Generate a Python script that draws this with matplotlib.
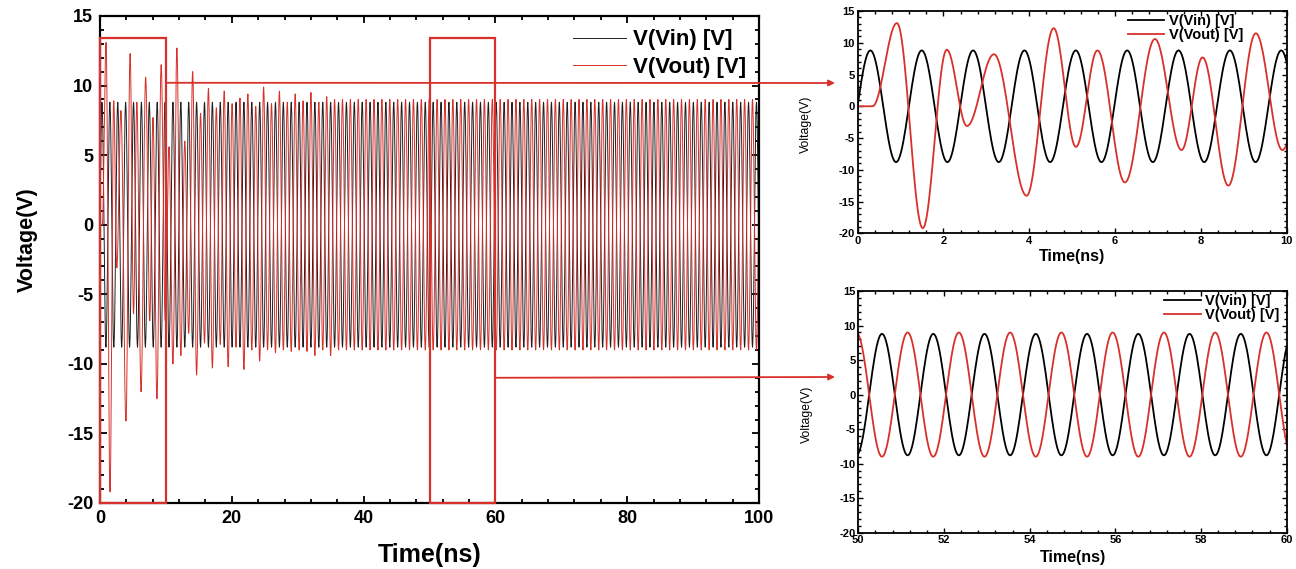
import numpy as np
import matplotlib
matplotlib.use("Agg")
import matplotlib.pyplot as plt
from matplotlib.patches import Rectangle, ConnectionPatch
from matplotlib.ticker import MultipleLocator

plt.rcParams['font.family'] = ['Liberation Sans', 'DejaVu Sans']
plt.rcParams['axes.unicode_minus'] = False

# Vin: clean sine (ns, V)
vin_amp = 8.8
vin_first_trough = -0.298
vin_half_period = 0.59825

# Vout extrema during start-up
vout_t_start = [0, 0.35, 0.92, 1.52, 2.08, 2.55, 3.18, 3.94, 4.57, 5.09,
                5.59, 6.23, 6.93, 7.55, 8.04, 8.64, 9.28, 9.90]
vout_v_start = [0, 0, 13.1, -19.2, 8.9, -3.1, 8.2, -14.1, 12.3, -6.4,
                8.8, -12.0, 10.6, -6.9, 7.7, -12.5, 11.5, -6.9]
# Vout extrema 10.5-35 ns, locked to Vin
vout_v_mid = [5.6, -10.0, 12.7, -9.4, 6.0, -7.8, 11.0, -10.8, 8.0, -8.5,
              9.8, -10.3, 8.4, -8.6, 9.6, -10.2, 8.7, -8.8, 9.1, -10.4,
              9.4, -9.0, 8.5, -9.8, 9.9, -9.0, 8.7, -9.2, 9.6, -9.0,
              8.8, -9.1, 9.4, -9.0, 8.9, -9.1, 9.5, -9.4, 8.8, -9.0,
              9.2, -9.4]
vout_steady = 9.0

t_end = 100.8


def wave(te, ve, n=24):
    # smooth half-cosine between consecutive extrema
    ts, vs = [], []
    for i in range(len(te) - 1):
        s = np.linspace(0, 1, n, endpoint=False)
        ts.append(te[i] + s * (te[i + 1] - te[i]))
        vs.append((ve[i] + ve[i + 1]) / 2 + (ve[i] - ve[i + 1]) / 2 * np.cos(np.pi * s))
    ts.append([te[-1]])
    vs.append([ve[-1]])
    return np.concatenate(ts), np.concatenate(vs)


# Vin extrema grid
k = np.arange(int((t_end - vin_first_trough) / vin_half_period) + 1)
vin_te = vin_first_trough + k * vin_half_period
vin_ve = np.where(k % 2 == 0, -vin_amp, vin_amp)
t_in, v_in = wave(vin_te, vin_ve)

# Vout extrema
grid = vin_te[vin_te > 10.2]
sign = -np.sign(vin_ve[vin_te > 10.2])
vout_te = list(vout_t_start)
vout_ve = list(vout_v_start)
for i, tt in enumerate(grid):
    vout_te.append(tt)
    vout_ve.append(vout_v_mid[i] if i < len(vout_v_mid) else sign[i] * vout_steady)
t_out, v_out = wave(np.array(vout_te), np.array(vout_ve))

red = '#d8302a'
W, H = 1296, 569
fig = plt.figure(figsize=(W / 100, H / 100), dpi=100)

ax = fig.add_axes([100 / W, 1 - 503 / H, 659 / W, 487 / H])
ax1 = fig.add_axes([857.5 / W, 1 - 233.3 / H, 429.2 / W, 222.3 / H])
ax2 = fig.add_axes([858.3 / W, 1 - 532.7 / H, 428.4 / W, 241.7 / H])

# main panel
ax.plot(t_in, v_in, color='#202020', lw=0.7, label='V(Vin) [V]')
ax.plot(t_out, v_out, color=red, lw=0.7, label='V(Vout) [V]')
ax.set_xlim(0, 100)
ax.set_ylim(-20, 15)
ax.xaxis.set_major_locator(MultipleLocator(20))
ax.xaxis.set_minor_locator(MultipleLocator(4))
ax.yaxis.set_major_locator(MultipleLocator(5))
ax.yaxis.set_minor_locator(MultipleLocator(1))
ax.tick_params(which='both', direction='in', top=True, right=True, width=1.3)
ax.tick_params(which='major', length=5, labelsize=13, pad=5)
ax.tick_params(which='minor', length=3)
for lab in ax.get_xticklabels() + ax.get_yticklabels():
    lab.set_fontweight('bold')
for sp in ax.spines.values():
    sp.set_linewidth(1.6)
ax.set_xlabel('Time(ns)', fontsize=18, fontweight='bold')
ax.set_ylabel('Voltage(V)', fontsize=15.5, fontweight='bold')
ax.xaxis.set_label_coords(0.5, -0.083)
ax.yaxis.set_label_coords(-0.094, 0.54)
ax.legend(loc='upper right', frameon=False, prop={'size': 16, 'weight': 'bold'},
          handlelength=2.4, handletextpad=0.3, labelspacing=0.3,
          borderaxespad=0.2, bbox_to_anchor=(1.0, 1.0))

# zoom boxes
for x0 in (0, 50):
    ax.add_patch(Rectangle((x0, -20), 10, 33.4, fill=False, ec=red, lw=1.6,
                           clip_on=False, zorder=5))

# insets
for a, (x0, x1), legx in ((ax1, (0, 10), 0.905), (ax2, (50, 60), 0.99)):
    a.plot(t_in, v_in, color='black', lw=1.3, label='V(Vin) [V]')
    a.plot(t_out, v_out, color=red, lw=1.3, label='V(Vout) [V]')
    a.set_xlim(x0, x1)
    a.set_ylim(-20, 15)
    a.xaxis.set_major_locator(MultipleLocator(2))
    a.xaxis.set_minor_locator(MultipleLocator(0.4))
    a.yaxis.set_major_locator(MultipleLocator(5))
    a.yaxis.set_minor_locator(MultipleLocator(1))
    a.tick_params(which='both', direction='in', top=True, right=True, width=1.0)
    a.tick_params(which='major', length=3.5, labelsize=8, pad=2)
    a.tick_params(which='minor', length=2)
    for lab in a.get_xticklabels() + a.get_yticklabels():
        lab.set_fontweight('bold')
    for sp in a.spines.values():
        sp.set_linewidth(1.3)
    a.set_xlabel('Time(ns)', fontsize=11.5, fontweight='bold')
    a.set_ylabel('Voltage(V)', fontsize=8.8)
    a.xaxis.set_label_coords(0.5, -0.07)
    a.yaxis.set_label_coords(-0.106, 0.49)
    a.legend(loc='upper right', frameon=False, prop={'size': 10.5, 'weight': 'bold'},
             handlelength=2.5, handletextpad=0.3, labelspacing=0.0,
             borderpad=0.1, borderaxespad=0.1, bbox_to_anchor=(legx, 1.0))

# connector arrows from zoom boxes to the insets
for (xa, ya), (px, py) in (((10, 10.2), (835, 83)), ((60, -11.0), (835, 377))):
    con = ConnectionPatch(xyA=(xa, ya), coordsA=ax.transData,
                          xyB=(px, H - py), coordsB='figure pixels',
                          arrowstyle='-|>', mutation_scale=9, color=red, lw=1.3)
    fig.add_artist(con)

fig.savefig('out.png', dpi=100)
